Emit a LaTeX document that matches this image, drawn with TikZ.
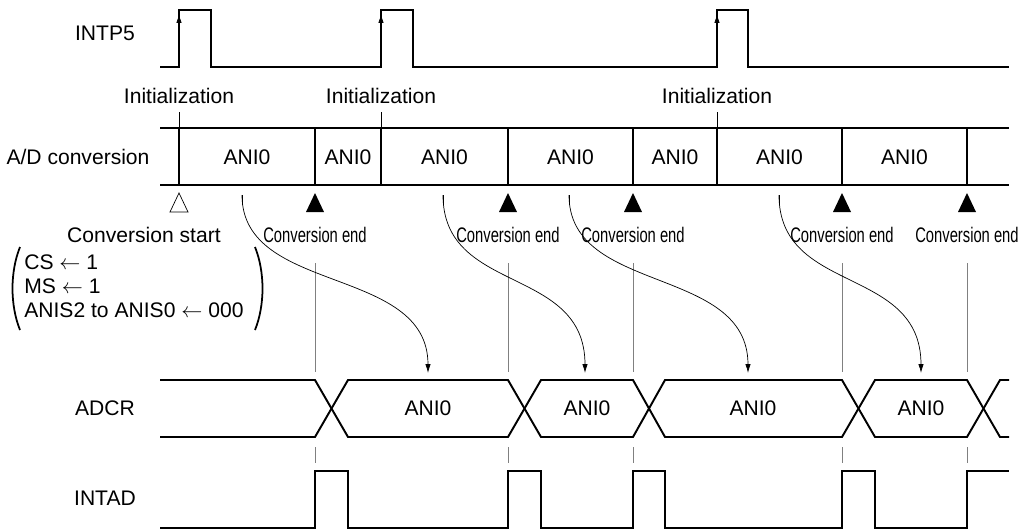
\documentclass[tikz,border=0pt]{standalone}
\usepackage{fontspec}
\setmainfont{Liberation Sans}
\usepackage{graphicx}
\usetikzlibrary{arrows.meta}
\newcommand{\narrowtxt}[1]{\scalebox{0.7}[1]{#1}}

\begin{document}
\begin{tikzpicture}[x=0.02cm,y=-0.02cm,>={Latex[length=5pt,width=3pt]},font=\fontsize{12}{13.6}\selectfont,
    sig/.style={line width=1.1pt},
    guide/.style={gray,line width=0.5pt},
    tick/.style={line width=0.4pt},
    paren/.style={line width=1pt}]
  \useasboundingbox (0,0) rectangle (1029,529);
  % signal names
  \node (lintp) at (105,33) {INTP5};
  \node (lad) at (78,157) {A/D conversion};
  \node (ladcr) at (105,408) {ADCR};
  \node (lintad) at (105,498) {INTAD};

  % INTP5
  \draw[sig] (160,67) -| (179,10) -| (211,67) -| (381,10) -| (413,67) -| (717,10) -| (748,67) -- (1009,67);
  \foreach \x in {179,381,717} {
    \draw[tick,->] (\x,30) -- (\x,14);
    \node (init\x) at (\x,96) {Initialization};
    \draw[tick] (\x,112) -- (\x,128);
  }

  % A/D conversion
  \draw[sig] (160,128) -- (1009,128) (160,185) -- (1009,185);
  \foreach \x in {179,315,381,508,633,717,842,967}
    \draw[sig] (\x,128) -- (\x,185);
  \foreach \x [count=\i] in {247,348,444.5,570.5,675,779.5,904.5}
    \node (ad\i) at (\x,157) {ANI0};

  % start / end marks
  \draw[tick] (179,193) -- (170,212) -- (188,212) -- cycle;
  \foreach \x in {315,508,633,842,967} {
    \fill (\x,193) -- (\x-9,212) -- (\x+9,212) -- cycle;
    \node (cend\x) at (\x,235) {\narrowtxt{Conversion end}};
    \draw[guide] (\x,263) -- (\x,372) (\x,447) -- (\x,463);
  }
  \node (cstart) at (144,235) {Conversion start};
  \node[anchor=west,inner sep=0pt,align=left] (regs) at (24,286)
    {CS $\leftarrow$ 1\\MS $\leftarrow$ 1\\ANIS2 to ANIS0 $\leftarrow$ 000};
  \draw[paren] (20,247) .. controls (10,272) and (10,305) .. (20,330);
  \draw[paren] (255,247) .. controls (265,272) and (265,305) .. (255,330);

  % data transfer to ADCR
  \foreach \s/\e [count=\i] in {242/428,443/585,569/748,779/921} {
    \coordinate (rs\i) at (\s,195);
    \coordinate (re\i) at (\e,373);
    \draw[tick] (\s,195) -- (\s,205);
    \draw[tick,->] (rs\i) .. controls (\s,295) and (\e,265) .. (re\i);
  }

  % ADCR
  \draw[sig] (160,380) -- (315,380) -- (348,437) -- (508,437) -- (541,380) -- (633,380) -- (665,437) -- (842,437) -- (875,380) -- (967,380) -- (1000,437) -- (1009,437);
  \draw[sig] (160,437) -- (315,437) -- (348,380) -- (508,380) -- (541,437) -- (633,437) -- (665,380) -- (842,380) -- (875,437) -- (967,437) -- (1000,380) -- (1009,380);
  \foreach \x [count=\i] in {428,587,753,921}
    \node (dr\i) at (\x,408) {ANI0};

  % INTAD
  \draw[sig] (160,528) -| (315,471) -| (348,528) -| (508,471) -| (541,528) -| (633,471) -| (665,528) -| (842,471) -| (875,528) -| (967,471) -- (1009,471);
\end{tikzpicture}
\end{document}
